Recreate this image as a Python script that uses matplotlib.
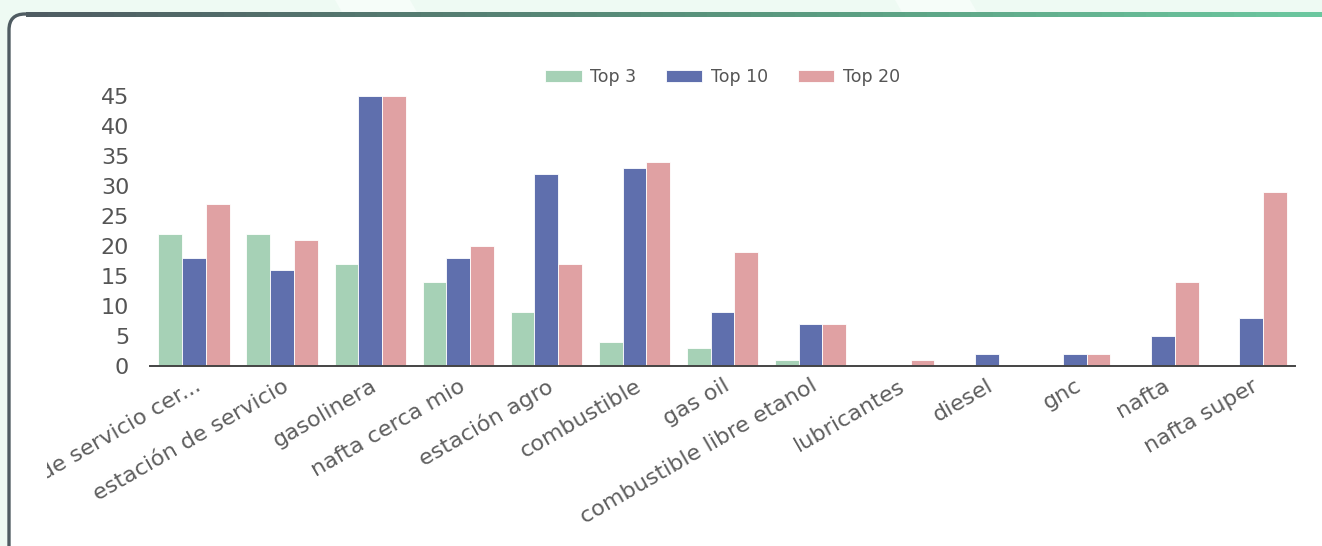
import matplotlib.pyplot as plt
import numpy as np
from matplotlib.patches import FancyBboxPatch, Rectangle, Polygon
from matplotlib.collections import LineCollection
from matplotlib.colors import to_rgb

plt.rcParams['font.family'] = ['DejaVu Sans']

terminos = ['estación de servicio cer...', 'estación de servicio', 'gasolinera',
            'nafta cerca mio', 'estación agro', 'combustible', 'gas oil',
            'combustible libre etanol', 'lubricantes', 'diesel', 'gnc', 'nafta',
            'nafta super']
top3 = [22, 22, 17, 14, 9, 4, 3, 1, 0, 0, 0, 0, 0]
top10 = [18, 16, 45, 18, 32, 33, 9, 7, 0, 2, 2, 5, 8]
top20 = [27, 21, 45, 20, 17, 34, 19, 7, 1, 0, 2, 14, 29]
series = ['Top 3', 'Top 10', 'Top 20']
colores = ['#a6d1b6', '#5f6fad', '#e0a1a3']

fig = plt.figure(figsize=(13.22, 5.46), dpi=100)
fig.patch.set_facecolor('#eefaf3')

# franjas claras diagonales del fondo
for x0 in (3.35, 8.95):
    fig.patches.append(Polygon([(x0, 5.46), (x0 + 0.75, 5.46), (x0 + 0.9, 5.2), (x0 + 0.15, 5.2)],
                               closed=True, facecolor='#f6fdf9', edgecolor='none',
                               transform=fig.dpi_scale_trans, zorder=0))

# tarjeta blanca con borde redondeado
tarjeta = FancyBboxPatch((0.09, -0.5), 14.0, 5.82,
                         boxstyle='round,pad=0,rounding_size=0.16',
                         facecolor='white', edgecolor='#4f5c62', linewidth=2.4,
                         transform=fig.dpi_scale_trans, zorder=1)
fig.patches.append(tarjeta)

# borde superior con degradado gris -> verde
xs = np.linspace(0.26, 13.22, 60)
segs = [[(xs[i], 5.32), (xs[i + 1], 5.32)] for i in range(len(xs) - 1)]
c0, c1, c2 = np.array(to_rgb('#4f5c62')), np.array(to_rgb('#5a9c80')), np.array(to_rgb('#6cc9a0'))
cols = []
for xv in xs[:-1]:
    t = (xv - 0.26) / (13.22 - 0.26)
    if t < 0.6:
        cols.append(c0 + (c1 - c0) * t / 0.6)
    else:
        cols.append(c1 + (c2 - c1) * (t - 0.6) / 0.4)
fig.add_artist(LineCollection(segs, colors=cols, linewidths=2.4, capstyle='butt',
                              antialiased=False,
                              transform=fig.dpi_scale_trans, zorder=2))

ax = fig.add_axes([150 / 1322, 1 - 366 / 546, (1295 - 150) / 1322, (366 - 96) / 546])
ax.set_facecolor('none')
ax.set_zorder(5)

x = np.arange(len(terminos))
ancho = 0.27
for i, (vals, nombre, color) in enumerate(zip([top3, top10, top20], series, colores)):
    ax.bar(x + (i - 1) * ancho, vals, ancho, color=color, edgecolor='white',
           linewidth=0.6, label=nombre, zorder=2)

ax.set_xlim(-0.5, len(terminos) - 0.5)
ax.set_ylim(0, 45)
ax.set_yticks(range(0, 46, 5))
ax.tick_params(axis='y', length=0, pad=15, labelsize=16, labelcolor='#555555')
ax.tick_params(axis='x', length=0, pad=7, labelsize=16, labelcolor='#5e5e5e')
ax.set_xticks(x)
ax.set_xticklabels(terminos, rotation=30, ha='right', rotation_mode='anchor')

for s in ['top', 'right', 'left']:
    ax.spines[s].set_visible(False)
ax.spines['bottom'].set_color('#444444')
ax.spines['bottom'].set_linewidth(1.4)
ax.spines['bottom'].set_zorder(3)

# la primera etiqueta queda cortada por el borde interior de la tarjeta
recorte = Rectangle((0.47, 0), 14, 6, transform=fig.dpi_scale_trans)
ax.get_xticklabels()[0].set_clip_path(recorte)

ax.legend(loc='center', bbox_to_anchor=(0.5, 1.07), ncol=3, frameon=False,
          fontsize=12.5, handlelength=2.1, handleheight=0.7,
          columnspacing=1.7, handletextpad=0.5, labelcolor='#555555')

fig.savefig('out.png', dpi=100, facecolor=fig.get_facecolor())
